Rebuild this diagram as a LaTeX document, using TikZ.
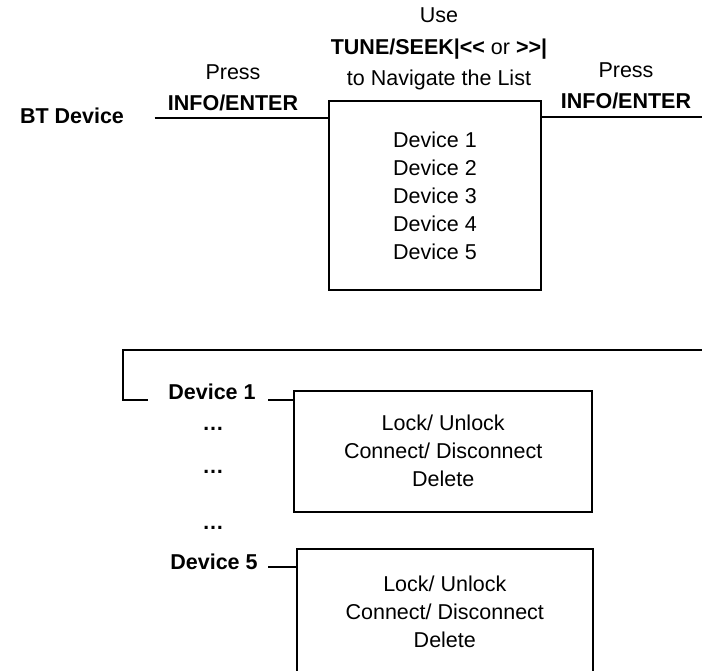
\documentclass[tikz,border=0pt]{standalone}
\usepackage{fontspec}
\setmainfont{Liberation Sans}
\usetikzlibrary{positioning}

\begin{document}
\begin{tikzpicture}[x=0.5pt,y=-0.5pt,line width=1pt,node distance=15.75pt,
    font=\fontsize{10.75}{14}\selectfont,
    lbl/.style={text height=1.5ex,text depth=.25ex},
    keyname/.style={lbl,font=\fontsize{10.75}{14}\selectfont\bfseries},
    menubox/.style={draw,align=center,inner sep=0pt}]
    \useasboundingbox (0,0) rectangle (702,670);

    % top row
    \node [keyname] (bt)     at (72,117)  {BT Device};
    \node [keyname] (infoL)  at (233,104) {INFO/ENTER};
    \node [lbl]     (pressL) [above of=infoL] {Press};
    \node [menubox,minimum width=106pt,minimum height=94.5pt] (list) at (435,195.5)
        {Device 1\\Device 2\\Device 3\\Device 4\\Device 5};
    \node [lbl]     (nav)    at (439,79)  {to Navigate the List};
    \node [lbl]     (tune)   [above of=nav] {\textbf{TUNE/SEEK|<{}<} or \textbf{>{}>|}};
    \node [lbl]     (use)    [above of=tune] {Use};
    \node [keyname] (infoR)  at (626,102) {INFO/ENTER};
    \node [lbl]     (pressR) [above of=infoR] {Press};

    \coordinate (btL)  at (154.5,118);
    \coordinate (rEnd) at (702,117);
    \draw (btL) -- (btL -| list.west);
    \draw (rEnd -| list.east) -- (rEnd);

    % device menus
    \node [keyname] (dev1) at (212,393) {Device 1};
    \node [keyname] (dotA) at (213,424) {…};
    \node [keyname] (dotB) at (213,467) {…};
    \node [keyname] (dotC) at (213,523) {…};
    \node [keyname] (dev5) at (214,563) {Device 5};
    \node [menubox,minimum width=148.85pt,minimum height=60.5pt] (box1) at (443.2,451.2)
        {Lock/ Unlock\\Connect/ Disconnect\\Delete};
    \node [menubox,minimum width=148.25pt,minimum height=63pt] (box2) at (444.8,611.5)
        {Lock/ Unlock\\Connect/ Disconnect\\Delete};

    \coordinate (brkR) at (702,349.5);
    \coordinate (brkC) at (122.7,400);
    \coordinate (brkL) at (148,400);
    \draw (brkR) -| (brkC) -- (brkL);

    \coordinate (d1L) at (268,400);
    \coordinate (d5L) at (268,567);
    \draw (d1L) -- (d1L -| box1.west);
    \draw (d5L) -- (d5L -| box2.west);
\end{tikzpicture}
\end{document}
